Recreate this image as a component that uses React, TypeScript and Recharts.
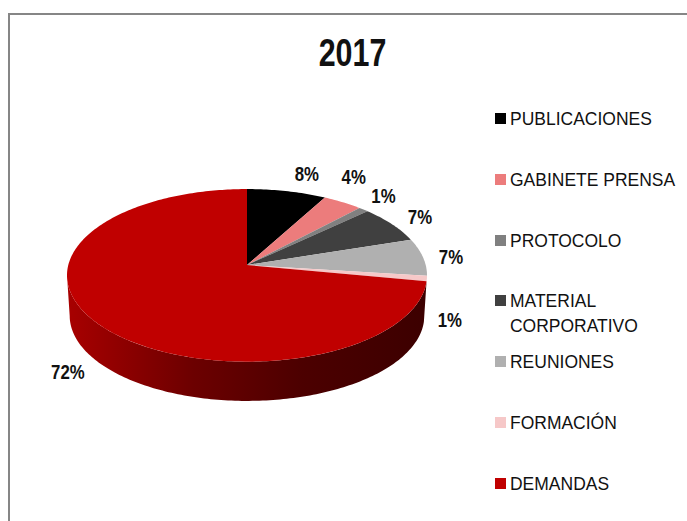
import { PieChart, Pie, Legend } from "recharts";

const categories = ["PUBLICACIONES", "GABINETE PRENSA", "PROTOCOLO", "MATERIAL CORPORATIVO", "REUNIONES", "FORMACIÓN", "DEMANDAS"];
const shares = [8, 4, 1, 7, 7, 1, 72];
const colors = ["#000000", "#EC7C7C", "#808080", "#404040", "#B0B0B0", "#F6C8C8", "#C00000"];
// label nudges from the rim of each slice
const labelNudges = [[20, -17], [11, -25], [20, -14], [28, -7], [28, 0], [23, 41], [-30, 48]];

const data = categories.map((name, i) => ({ name, value: shares[i], fill: colors[i] }));

const FONT = "'Liberation Sans', Arial, sans-serif";

// perspective tilt of the disc
const TILT = 0.12;
const SQUASH = 0.476;
const WALL_SCALE = 0.985;
const WALL_DROP = 40.7;
// polar angle of the left silhouette, the wall is hidden behind the top past it
const WALL_END = 90 - (360 - (Math.acos(-TILT) * 180) / Math.PI);

const project = (cx: number, cy: number, r: number, deg: number) => {
  const a = ((90 - deg) * Math.PI) / 180;
  const w = 1 / (1 + TILT * Math.cos(a));
  return [cx + r * Math.sin(a) * w, cy - r * SQUASH * Math.cos(a) * w];
};

const rimPoints = (cx: number, cy: number, r: number, from: number, to: number) => {
  const steps = Math.max(2, Math.ceil(Math.abs(to - from)));
  const pts = [];
  for (let i = 0; i <= steps; i++) pts.push(project(cx, cy, r, from + ((to - from) * i) / steps));
  return pts;
};

const toPath = (pts: number[][]) => "M" + pts.map((p) => `${p[0].toFixed(2)},${p[1].toFixed(2)}`).join("L") + "Z";

const DiscSlice = (props: any) => {
  const { cx, cy, outerRadius, startAngle, endAngle, fill, index } = props;
  const rim = rimPoints(cx, cy, outerRadius, startAngle, endAngle);
  const isFront = index === shares.length - 1;
  const wallTop = rimPoints(cx, cy, outerRadius, startAngle, WALL_END);
  const wallBase = rimPoints(cx, cy + WALL_DROP, outerRadius * WALL_SCALE, startAngle, WALL_END);
  return (
    <g>
      {isFront && <path d={toPath([...wallTop, ...wallBase.reverse()])} fill="url(#wallShade)" />}
      <path d={toPath([[cx, cy], ...rim])} fill={fill} />
    </g>
  );
};

const SliceLabel = (props: any) => {
  const { cx, cy, outerRadius, midAngle, index, value } = props;
  const [x, y] = project(cx, cy, outerRadius, midAngle);
  return (
    <text
      transform={`translate(${x + labelNudges[index][0]} ${y + labelNudges[index][1]}) scale(0.8 1)`}
      textAnchor="middle"
      dominantBaseline="central"
      fontFamily={FONT}
      fontWeight="bold"
      fontSize={21}
      fill="#111"
    >
      {value}%
    </text>
  );
};

const LegendList = ({ payload }: any) => (
  <div style={{ width: 190, fontFamily: FONT, fontSize: 19, lineHeight: "25px", color: "#111" }}>
    {(payload || []).map((entry: any) => (
      <div key={entry.value} style={{ position: "relative", paddingLeft: 15, height: 60.8 }}>
        <span style={{ position: "absolute", left: 0, top: 7, width: 11, height: 11, background: entry.color }} />
        <span style={{ display: "block", width: 190, transform: "scaleX(0.92)", transformOrigin: "left" }}>{entry.value}</span>
      </div>
    ))}
  </div>
);

export default function App() {
  return (
    <div style={{ position: "absolute", left: 0, top: 0, width: 687, height: 521, overflow: "hidden", background: "#fff" }}>
      <div style={{ position: "absolute", left: 8, top: 13, width: 700, height: 540, border: "2px solid #868686", boxSizing: "border-box" }} />
      <PieChart width={687} height={521} margin={{ top: 0, right: 0, bottom: 0, left: 0 }} style={{ position: "absolute", left: 0, top: 0 }}>
        <defs>
          <linearGradient id="wallShade" gradientUnits="userSpaceOnUse" x1={67} y1={0} x2={428} y2={0}>
            <stop offset="0%" stopColor="#A80000" />
            <stop offset="35%" stopColor="#6C0000" />
            <stop offset="65%" stopColor="#4C0000" />
            <stop offset="100%" stopColor="#3C0000" />
          </linearGradient>
        </defs>
        <text
          transform="translate(352.5 53) scale(0.8 1)"
          textAnchor="middle"
          dominantBaseline="central"
          fontFamily={FONT}
          fontWeight="bold"
          fontSize={38}
          fill="#111"
        >
          2017
        </text>
        <Pie
          data={data}
          dataKey="value"
          nameKey="name"
          cx={247}
          cy={265}
          outerRadius={178.7}
          startAngle={90}
          endAngle={-270}
          stroke="none"
          shape={DiscSlice}
          label={SliceLabel}
          labelLine={false}
          isAnimationActive={false}
        />
        <Legend layout="vertical" align="right" verticalAlign="top" itemSorter={null} wrapperStyle={{ left: 495, top: 106, width: 190 }} content={LegendList} />
      </PieChart>
    </div>
  );
}
